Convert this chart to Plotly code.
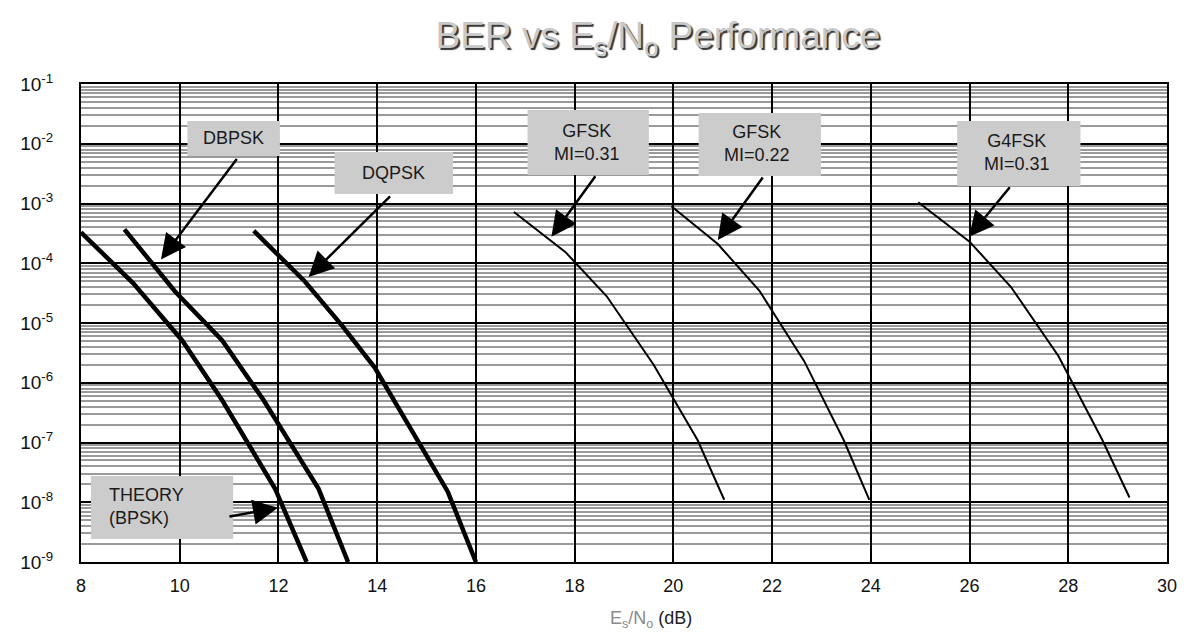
import math
import plotly.graph_objects as go

# ---------------- data ----------------
theory_x = [8.0, 9.05, 10.05, 10.86, 11.93, 12.57]
theory_ber = [3.3e-4, 4.7e-5, 5.1e-6, 5.1e-7, 1.7e-8, 1.0e-9]

dbpsk_x = [8.88, 9.9, 10.86, 11.7, 12.81, 13.41]
dbpsk_ber = [3.7e-4, 3.4e-5, 5.1e-6, 5.1e-7, 1.7e-8, 1.0e-9]

dqpsk_x = [11.5, 12.54, 13.28, 13.95, 14.6, 15.43, 16.0]
dqpsk_ber = [3.5e-4, 4.9e-5, 9.2e-6, 1.8e-6, 2.2e-7, 1.5e-8, 1.0e-9]

gfsk31_x = [16.77, 17.81, 18.65, 19.6, 20.49, 21.03]
gfsk31_ber = [7.2e-4, 1.55e-4, 2.8e-5, 2.0e-6, 1.1e-7, 1.1e-8]

gfsk22_x = [19.96, 20.9, 21.74, 22.65, 23.45, 23.97]
gfsk22_ber = [9.0e-4, 2.1e-4, 3.5e-5, 2.3e-6, 1.1e-7, 1.1e-8]

g4fsk_x = [24.96, 26.0, 26.84, 27.8, 28.69, 29.24]
g4fsk_ber = [1.05e-3, 2.3e-4, 4.0e-5, 2.8e-6, 1.1e-7, 1.2e-8]

y_tick_exps = [-9, -8, -7, -6, -5, -4, -3, -2, -1]
x_ticks = [8, 10, 12, 14, 16, 18, 20, 22, 24, 26, 28, 30]

# labels: text, arrow tip (x value, BER)
labels = [
    ("DBPSK", 9.62, 1.16e-4),
    ("DQPSK", 12.61, 5.9e-5),
    ("GFSK<br>MI=0.31", 17.53, 2.77e-4),
    ("GFSK<br>MI=0.22", 20.90, 2.44e-4),
    ("G4FSK<br>MI=0.31", 25.99, 2.77e-4),
    ("THEORY<br>(BPSK)", 11.99, 8.1e-9),
]

# ---------------- layout geometry ----------------
OFF = 8  # default page margin of the html body
W, H = 1189 - OFF, 634 - OFF
# plot-area edges in window pixels
L, R, T, B = 78, 1170, 84, 562


def pxx(xp):
    return (xp - L) / (R - L)


def pxy(yp):
    return (B - yp) / (B - T)


# box rectangles (window px), text centres (window px), arrow tail offsets (px)
boxes = [
    (185, 278, 121, 156),
    (333, 452, 152, 194),
    (527, 649, 110, 175),
    (699, 822, 113, 176),
    (959, 1083, 121, 186),
    (88, 231, 476, 539),
]
text_pos = [
    (231, 138, "center"),
    (392, 173, "center"),
    (587, 142, "center"),
    (758, 143, "center"),
    (1019, 152, "center"),
    (104, 506, "left"),
]
tails = [
    (77, -102),
    (83, -82),
    (45, -62),
    (46, -64),
    (42, -51),
    (-50, 9),
]

fig = go.Figure()

thick = dict(color="black", width=4.5)
thin = dict(color="black", width=2)
for xs, ys, ln in [
    (theory_x, theory_ber, thick),
    (dbpsk_x, dbpsk_ber, thick),
    (dqpsk_x, dqpsk_ber, thick),
    (gfsk31_x, gfsk31_ber, thin),
    (gfsk22_x, gfsk22_ber, thin),
    (g4fsk_x, g4fsk_ber, thin),
]:
    fig.add_trace(go.Scatter(x=xs, y=ys, mode="lines", line=ln,
                             showlegend=False, hoverinfo="skip"))

shapes = []
for (x0, x1, y0, y1) in boxes:
    shapes.append(dict(type="rect", xref="paper", yref="paper",
                       x0=pxx(x0), x1=pxx(x1), y0=pxy(y1), y1=pxy(y0),
                       fillcolor="#cccccc", line=dict(width=0), layer="above"))

font_main = "Liberation Sans, Arial, sans-serif"
annotations = []
for (txt, tx, ty), (cx, cy, al), (ax, ay) in zip(labels, text_pos, tails):
    annotations.append(dict(
        text=txt, xref="paper", yref="paper", x=pxx(cx), y=pxy(cy),
        xanchor="left" if al == "left" else "center", yanchor="middle",
        align=al, showarrow=False,
        font=dict(family=font_main, size=18, color="#1a1a1a")))
    annotations.append(dict(
        text="", xref="x", yref="y", x=tx, y=math.log10(ty),
        ax=ax, ay=ay, showarrow=True, arrowhead=2, arrowsize=2.0,
        arrowwidth=2.5, arrowcolor="black", standoff=0, startstandoff=0))

annotations.append(dict(
    text="<span style='color:#8a8a8a'>E<sub>s</sub>/N<sub>o</sub></span> (dB)",
    xref="paper", yref="paper", x=pxx(651), y=pxy(619), xanchor="center",
    yanchor="middle", showarrow=False,
    font=dict(family=font_main, size=18, color="#222222")))

fig.update_layout(
    width=W, height=H,
    margin=dict(l=L - OFF, r=W - (R - OFF), t=T - OFF, b=H - (B - OFF)),
    paper_bgcolor="white", plot_bgcolor="white",
    title=dict(text="BER vs E<sub>s</sub>/N<sub>o</sub> Performance",
               xref="container", yref="container",
               x=(658 - OFF) / W, y=1 - (35 - OFF) / H,
               xanchor="center", yanchor="middle",
               font=dict(family=font_main, size=37, color="#c8c8c8",
                         shadow="2px 2px 1px #333333")),
    shapes=shapes,
    annotations=annotations,
)

fig.update_xaxes(
    range=[8, 30], tickmode="array", tickvals=x_ticks,
    ticktext=[str(v) for v in x_ticks],
    showgrid=True, gridcolor="black", gridwidth=2, zeroline=False,
    showline=True, linecolor="black", linewidth=2, mirror=True,
    ticks="", ticklabelstandoff=6,
    tickfont=dict(family=font_main, size=18, color="#111111"))

fig.update_yaxes(
    type="log", range=[-9, -1], tickmode="array",
    tickvals=[10 ** e for e in y_tick_exps],
    ticktext=["10<sup>%d</sup>" % e for e in y_tick_exps],
    showgrid=True, gridcolor="black", gridwidth=2, zeroline=False,
    minor=dict(dtick="D1", showgrid=True, gridcolor="#9a9a9a", gridwidth=2,
               ticks=""),
    showline=True, linecolor="black", linewidth=2, mirror=True,
    ticks="", ticklabelstandoff=22,
    tickfont=dict(family=font_main, size=19, color="#111111"))

fig.write_html("out.html")
